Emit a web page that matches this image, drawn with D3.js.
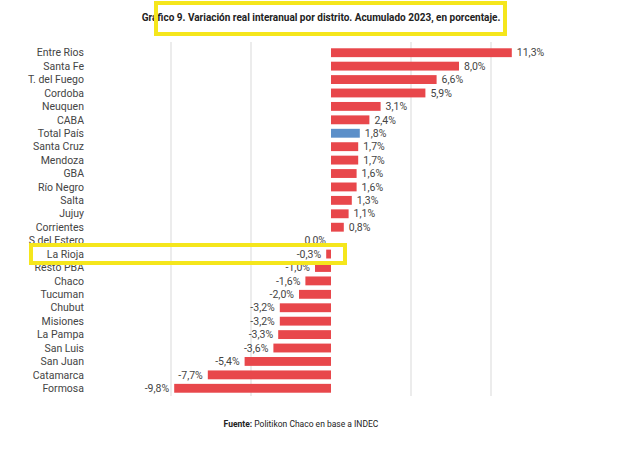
<html>
<script src='https://d3js.org/d3.v7.min.js'></script>
<body style="margin:0;background:#fff">
<svg width=621 height=461 style="font-family:Roboto,'Liberation Sans',sans-serif"></svg>
<script>
var regions = ["Entre Rios","Santa Fe","T. del Fuego","Cordoba","Neuquen","CABA","Total País","Santa Cruz","Mendoza","GBA","Río Negro","Salta","Jujuy","Corrientes","S del Estero","La Rioja","Resto PBA","Chaco","Tucuman","Chubut","Misiones","La Pampa","San Luis","San Juan","Catamarca","Formosa"];
var values = [11.3,8.0,6.6,5.9,3.1,2.4,1.8,1.7,1.7,1.6,1.6,1.3,1.1,0.8,0.0,-0.3,-1.0,-1.6,-2.0,-3.2,-3.2,-3.3,-3.6,-5.4,-7.7,-9.8];
var gridTicks = [-10,-5,5,10];

var svg = d3.select('svg');
var x = d3.scaleLinear().domain([-10,15]).range([171,571]);
var y = d3.scaleBand().domain(regions).range([46,395]).paddingInner(0.34).paddingOuter(0.17);
var fmt = function(v){ return v.toFixed(1).replace('.',',') + '%'; };

svg.append('g').selectAll('line').data(gridTicks).enter().append('line')
  .attr('x1', d => x(d)).attr('x2', d => x(d)).attr('y1', 42).attr('y2', 396)
  .attr('stroke', '#d9d9d9');

svg.append('g').selectAll('rect').data(regions).enter().append('rect')
  .attr('x', (d,i) => x(Math.min(0, values[i])))
  .attr('y', d => y(d))
  .attr('width', (d,i) => Math.abs(x(values[i]) - x(0)))
  .attr('height', y.bandwidth())
  .attr('fill', d => d == 'Total País' ? '#5b8fc9' : '#e8474b');

svg.append('g').selectAll('text').data(regions).enter().append('text')
  .attr('x', 84).attr('y', d => y(d) + y.bandwidth()/2).attr('dy', '0.35em')
  .attr('text-anchor', 'end').attr('font-size', 10.5).attr('fill', '#444').text(d => d);

svg.append('g').selectAll('text').data(regions).enter().append('text')
  .attr('x', (d,i) => values[i] > 0 ? x(values[i]) + 5 : x(values[i]) - 5)
  .attr('y', d => y(d) + y.bandwidth()/2).attr('dy', '0.35em')
  .attr('text-anchor', (d,i) => values[i] > 0 ? 'start' : 'end')
  .attr('font-size', 10.5).attr('fill', '#444').text((d,i) => fmt(values[i]));

svg.append('text').attr('x', 321).attr('y', 21).attr('text-anchor', 'middle')
  .attr('font-size', 10).attr('font-weight', 'bold').attr('fill', '#222')
  .text('Gráfico 9. Variación real interanual por distrito. Acumulado 2023, en porcentaje.');

var src = svg.append('text').attr('x', 301).attr('y', 427).attr('text-anchor', 'middle')
  .attr('font-size', 8.5).attr('fill', '#222');
src.append('tspan').attr('font-weight', 'bold').text('Fuente:');
src.append('tspan').text(' Politikon Chaco en base a INDEC');

// highlight boxes
svg.append('rect').attr('x', 156).attr('y', 3).attr('width', 349).attr('height', 31)
  .attr('fill', 'none').attr('stroke', '#f5e61c').attr('stroke-width', 4);
svg.append('rect').attr('x', 31).attr('y', 245).attr('width', 314).attr('height', 18)
  .attr('fill', 'none').attr('stroke', '#f5e61c').attr('stroke-width', 4);
</script>
</body>
</html>
